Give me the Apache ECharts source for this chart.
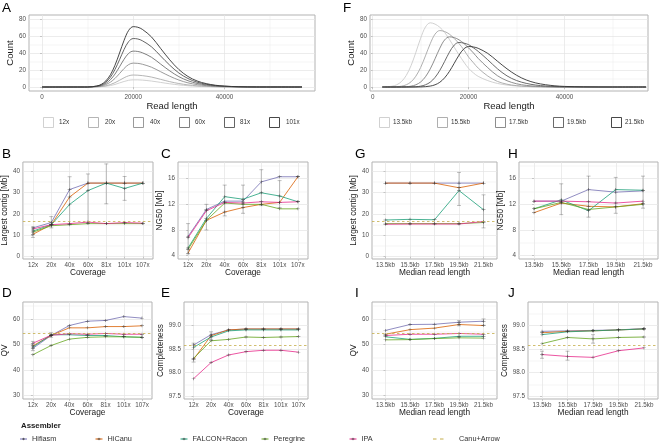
<!DOCTYPE html>
<html><head><meta charset="utf-8">
<script src="https://cdn.jsdelivr.net/npm/echarts@6/dist/echarts.min.js"></script>
<style>html,body{margin:0;padding:0;background:#fff}#c{width:661px;height:445px}</style>
</head><body><div id="c"></div>
<script>
// ================= DATA =================
// Panel A: read-length density by coverage
const readLenA = [0,10000,12000,13000,14000,15000,16000,17000,18000,19000,20000,21000,22000,24000,26000,28000,30000,32000,34000,36000,38000,40000,43000,47000,57000];
const cov12x  = [0,0,0.1,0.4,0.9,1.7,3,4.8,6.5,7.9,8.4,8.4,8.1,7,5.4,3.8,2.5,1.5,0.8,0.5,0.2,0.1,0,0,0];
const cov20x  = [0,0,0.2,0.6,1.4,2.9,5.1,7.9,10.9,13.2,14.1,13.9,13.4,11.7,9,6.3,4.1,2.5,1.4,0.8,0.4,0.2,0.1,0,0];
const cov40x  = [0,0,0.5,1.2,2.9,5.7,10.1,15.8,21.8,26.4,28.1,27.8,26.8,23.3,18,12.7,8.2,4.9,2.8,1.6,0.8,0.4,0.1,0,0];
const cov60x  = [0,0,0.7,1.8,4.3,8.6,15.2,23.8,32.7,39.6,42.2,41.8,40.3,35,27,19,12.2,7.4,4.2,2.4,1.2,0.7,0.2,0,0];
const cov81x  = [0,0,1,2.5,5.8,11.6,20.6,32.1,44.2,53.5,57,56.5,54.4,47.3,36.5,25.7,16.5,10,5.7,3.2,1.7,0.9,0.3,0,0];
const cov101x = [0,0,1.2,3.1,7.2,14.4,25.6,40,55,66.6,71,70.3,67.8,58.9,45.4,32,20.6,12.4,7.1,4,2.1,1.1,0.35,0.05,0];
const covLevels = ['12x','20x','40x','60x','81x','101x'];

// Panel F: read-length density by median read length
const readLenF = [2000,4000,5000,6000,7000,8000,9000,10000,11000,12000,13000,14000,15000,16000,17000,18000,19000,20000,21000,22000,24000,26000,28000,30000,32000,34000,36000,38000,40000,44000,50000,57000];
const med13_5 = [0,0.9,2.6,6.4,13.6,25.2,40.7,57.4,70.5,75.5,74,70.2,64.2,55.9,46.8,37.8,29.4,21.9,16.6,12.5,7.5,4.2,2.3,1.2,0.6,0.3,0.1,0,0,0,0,0];
const med15_5 = [0,0.1,0.3,1,2.6,6.1,12.7,23,36.6,50.9,62.2,66.4,65.2,62.1,57.1,51.1,43.8,35.2,28.6,22.2,12.9,6.6,3.3,1.6,0.7,0.3,0.1,0,0,0,0,0];
const med17_5 = [0,0,0,0.1,0.3,1,2.6,5.9,12,21.3,33.2,45.7,55.4,59,58.1,55.5,51.3,46,40.1,33.6,22.7,13.3,7.4,3.8,1.9,0.9,0.4,0.1,0,0,0,0];
const med19_5 = [0,0,0,0,0,0.1,0.3,1,2.6,5.7,11.3,19.6,30.1,41,49.3,52.4,51.6,49.8,46.1,41.9,32,21.5,13.1,7.6,4.3,2.3,1.2,0.5,0.2,0,0,0];
const med21_5 = [0,0,0,0,0,0,0,0.1,0.4,1.1,2.6,5.6,10.8,18.4,27.9,37.5,44.8,47.6,47.1,45.5,39.5,30.4,21.4,13.8,8.3,4.8,2.7,1.4,0.7,0.2,0,0];
const medLevels = ['13.5kb','15.5kb','17.5kb','19.5kb','21.5kb'];

// Categories for B-E and G-J
const coverageCats = ['12x','20x','40x','60x','81x','101x','107x'];
const readLenCats  = ['13.5kb','15.5kb','17.5kb','19.5kb','21.5kb'];
const assemblers = ['Hifiasm','HiCanu','FALCON+Racon','Peregrine','IPA'];

// B: Largest contig [Mb] vs coverage
const B_hifiasm   = [13.5,16,31.5,34.5,34.5,34.5,34.5];
const B_hicanu    = [10.5,15,28,34.5,34.5,34.5,34.5];
const B_falcon    = [12,15,24.5,31,34.5,32,34.5];
const B_peregrine = [11.5,14.5,15,15.5,15.5,15.5,15.5];
const B_ipa       = [13,15,15.5,16.2,15.5,16,15.7];
const B_err = [[0,9,14],[1,13.5,18.8],[2,15,37.5],[3,15.5,38.8],[4,24.8,43.5],[5,26.4,37.6]];

// C: NG50 [Mb] vs coverage
const C_hifiasm   = [7,11.2,12.5,12.5,15.5,16.3,16.3];
const C_hicanu    = [4.4,9.5,10.8,11.5,12,12.3,16.3];
const C_falcon    = [5.2,9.8,13.2,12.8,13.8,13.3,12.4];
const C_peregrine = [5,9.5,12.2,12,12,11.3,11.3];
const C_ipa       = [6.8,11,12.3,12.2,12.4,12.3,12.4];
const C_err = [[0,4.3,9],[1,8,12],[2,10.2,15],[3,10.6,15],[4,11.8,17.4],[5,11.5,15.7]];

// D: QV vs coverage
const D_hifiasm   = [48.5,53.5,57.4,59.1,59.4,60.9,60.3];
const D_hicanu    = [49.5,53.5,56.5,56.5,57,57,57.3];
const D_falcon    = [49,53.8,53.8,53.5,53.5,53,52.8];
const D_peregrine = [46,49.6,52.1,52.8,53,53,52.8];
const D_ipa       = [50.5,53.6,54.2,54,54.3,54,54];
const D_err = [[0,47.6,51.2],[1,52.8,54.6]];

// E: Completeness vs coverage
const E_hifiasm   = [98.58,98.8,98.9,98.92,98.92,98.92,98.92];
const E_hicanu    = [98.28,98.78,98.9,98.92,98.92,98.92,98.92];
const E_falcon    = [98.53,98.75,98.88,98.9,98.9,98.9,98.9];
const E_peregrine = [98.3,98.67,98.7,98.75,98.74,98.75,98.76];
const E_ipa       = [97.87,98.21,98.37,98.44,98.47,98.47,98.43];
const E_err = [[0,98.22,98.62],[1,98.7,98.86]];

// G: Largest contig [Mb] vs median read length
const G_hifiasm   = [34.5,34.5,34.5,34.5,34.5];
const G_hicanu    = [34.5,34.5,34.5,32.3,34.5];
const G_falcon    = [17.2,17.5,17.3,31,22];
const G_peregrine = [15.5,15.5,15.5,15.5,16];
const G_ipa       = [15.2,15.3,15.3,15.3,16.5];
const G_err = [[3,24,39.5],[4,13.5,29]];

// H: NG50 [Mb] vs median read length
const H_hifiasm   = [12.5,12.5,14.3,13.9,14.1];
const H_hicanu    = [10.7,12.2,11.7,11.6,12.1];
const H_falcon    = [11.3,12.7,11,14.3,14.2];
const H_peregrine = [11.3,12.3,11.2,11.6,12];
const H_ipa       = [12.5,12.5,12.4,12.2,12.5];
const H_err = [[1,10.4,15.2],[2,10,16.4],[3,10.6,16.2],[4,11.4,16.4]];

// I: QV vs median read length
const I_hifiasm   = [55.5,57.8,57.9,58.7,59.1];
const I_hicanu    = [54,55.8,56.4,57.8,57.4];
const I_falcon    = [53,52,52.4,53.2,53.2];
const I_peregrine = [51.8,51.9,52.3,52.6,52.5];
const I_ipa       = [53.5,54,54,54.3,54];
const I_err = [[3,57.3,59.3],[4,57.5,60]];

// J: Completeness vs median read length
const J_hifiasm   = [98.87,98.88,98.89,98.9,98.93];
const J_hicanu    = [98.84,98.87,98.88,98.9,98.92];
const J_falcon    = [98.8,98.86,98.88,98.9,98.92];
const J_peregrine = [98.61,98.74,98.71,98.74,98.75];
const J_ipa       = [98.38,98.34,98.32,98.46,98.52];
const J_err = [[0,98.3,98.45],[1,98.26,98.45],[2,98.62,98.8]];

// Canu+Arrow reference values
const canuLargestContig = 16.5;
const canuQV = 54.2;
const canuCompleteness = 98.57;

// ================= STYLE / LAYOUT =================
const FONT = '"Liberation Sans", Arial, Helvetica, sans-serif';
const BORDER = '#b3b3b3', GRIDC = '#e4e4e4', LABELC = '#4d4d4d', TITLEC = '#1a1a1a';
const asmColors = {'Hifiasm':'#7570B3','HiCanu':'#D95F02','FALCON+Racon':'#1B9E77','Peregrine':'#66A61E','IPA':'#E7298A'};
const canuColor = '#C4AD4A';
const greys6 = ['#CCCCCC','#ADADAD','#8F8F8F','#707070','#525252','#333333'];
const greys5 = ['#CCCCCC','#A6A6A6','#808080','#595959','#333333'];

const grid = [], xAxis = [], yAxis = [], series = [], graphic = [];

function addPanel(c) {
  const gi = grid.length;
  grid.push({left:c.left, top:c.top, width:c.width, height:c.height, show:true, borderColor:BORDER, borderWidth:1, backgroundColor:'transparent', containLabel:false});
  const xi = xAxis.length;
  xAxis.push({
    type:'value', gridIndex:gi, min:c.xmin, max:c.xmax,
    axisLine:{show:false},
    axisTick:{show:true, length:2, lineStyle:{color:BORDER, width:0.7}, customValues:c.xticks},
    axisLabel:{show:true, customValues:c.xticks, formatter:c.xfmt, fontSize:6.3, color:LABELC, margin:3, fontFamily:FONT},
    splitLine:{show:true, lineStyle:{color:GRIDC, width:0.7}},
    name:c.xtitle, nameLocation:'middle', nameGap:c.xGap, nameTextStyle:{fontSize:c.titleSize, color:TITLEC, fontFamily:FONT}
  });
  if (c.xminor) xAxis.push({type:'value', gridIndex:gi, min:c.xmin, max:c.xmax, axisLine:{show:false}, axisLabel:{show:false}, axisTick:{show:false, customValues:c.xminor}, splitLine:{show:true, lineStyle:{color:GRIDC, width:0.35}}});
  const yi = yAxis.length;
  yAxis.push({
    type:'value', gridIndex:gi, min:c.ymin, max:c.ymax,
    axisLine:{show:false},
    axisTick:{show:true, length:2, lineStyle:{color:BORDER, width:0.7}, customValues:c.yticks},
    axisLabel:{show:true, customValues:c.yticks, formatter:c.yfmt, fontSize:6.3, color:LABELC, margin:3, fontFamily:FONT},
    splitLine:{show:true, lineStyle:{color:GRIDC, width:0.7}},
    name:c.ytitle, nameLocation:'middle', nameGap:c.yGap, nameTextStyle:{fontSize:c.titleSize, color:TITLEC, fontFamily:FONT}
  });
  if (c.yminor) yAxis.push({type:'value', gridIndex:gi, min:c.ymin, max:c.ymax, position:'left', axisLine:{show:false}, axisLabel:{show:false}, axisTick:{show:false, customValues:c.yminor}, splitLine:{show:true, lineStyle:{color:GRIDC, width:0.35}}});
  return {xi, yi};
}

function errRender(params, api) {
  const x = api.value(0), lo = api.value(1), hi = api.value(2);
  const a = api.coord([x, lo]), b = api.coord([x, hi]);
  const hw = 2;
  const st = {stroke:'rgba(60,60,60,0.45)', lineWidth:0.7};
  return {type:'group', children:[
    {type:'line', shape:{x1:a[0], y1:a[1], x2:b[0], y2:b[1]}, style:st},
    {type:'line', shape:{x1:a[0]-hw, y1:a[1], x2:a[0]+hw, y2:a[1]}, style:st},
    {type:'line', shape:{x1:b[0]-hw, y1:b[1], x2:b[0]+hw, y2:b[1]}, style:st}
  ]};
}

const CROSS = 'path://M0,2.6H6V3.4H0Z M2.6,0H3.4V6H2.6Z';

function metricPanel(c) {
  const cats = c.cats;
  const idx = cats.map((_, i) => i);
  const ax = addPanel({
    left:c.left, top:c.top, width:c.width, height:c.height,
    xmin:-0.55, xmax:cats.length - 0.45, xticks:idx, xfmt:(v) => cats[Math.round(v)],
    ymin:c.ymin, ymax:c.ymax, yticks:c.yticks, yminor:c.yminor, yfmt:c.yfmt,
    xtitle:c.xtitle, ytitle:c.ytitle, xGap:8.5, yGap:c.yGap, titleSize:8.3
  });
  assemblers.forEach((name, k) => {
    const vals = c.vals[k];
    series.push({
      type:'line', name, xAxisIndex:ax.xi, yAxisIndex:ax.yi,
      data: vals.map((v, i) => [i, v]),
      lineStyle:{color:asmColors[name], width:0.8},
      itemStyle:{color:'rgba(40,40,40,0.75)'},
      symbol:CROSS, symbolSize:[4,3], showSymbol:true, silent:true, z:3
    });
  });
  if (c.hline !== undefined) {
    series.push({
      type:'line', name:'Canu+Arrow', xAxisIndex:ax.xi, yAxisIndex:ax.yi, data:[], silent:true,
      markLine:{silent:true, symbol:'none', label:{show:false},
        lineStyle:{color:canuColor, width:0.8, type:[2.5,2.5]}, data:[{yAxis:c.hline}]}, z:2
    });
  }
  series.push({type:'custom', xAxisIndex:ax.xi, yAxisIndex:ax.yi, data:c.err, renderItem:errRender, clip:true, silent:true, z:4});
}

// ---- Panel A ----
{
  const ax = addPanel({left:29, top:15, width:286, height:76,
    xmin:-2850, xmax:59850, xticks:[0,20000,40000], xminor:[10000,30000,50000], xfmt:(v)=>String(v),
    ymin:-4.7, ymax:84.7, yticks:[0,20,40,60,80], yminor:[10,30,50,70], yfmt:(v)=>String(v),
    xtitle:'Read length', ytitle:'Count', xGap:9, yGap:11, titleSize:9.5});
  const arrs = [cov12x, cov20x, cov40x, cov60x, cov81x, cov101x];
  arrs.forEach((arr, k) => {
    series.push({type:'line', name:covLevels[k], xAxisIndex:ax.xi, yAxisIndex:ax.yi,
      data:readLenA.map((x, i) => [x, arr[i]]), smooth:0.35, showSymbol:false, silent:true,
      lineStyle:{color:greys6[k], width:0.9}});
  });
}
// ---- Panel F ----
{
  const ax = addPanel({left:370, top:15, width:278, height:76,
    xmin:-560, xmax:57400, xticks:[0,20000,40000], xminor:[10000,30000,50000], xfmt:(v)=>String(v),
    ymin:-4.7, ymax:84.7, yticks:[0,20,40,60,80], yminor:[10,30,50,70], yfmt:(v)=>String(v),
    xtitle:'Read length', ytitle:'Count', xGap:9, yGap:9, titleSize:9.5});
  const arrs = [med13_5, med15_5, med17_5, med19_5, med21_5];
  arrs.forEach((arr, k) => {
    series.push({type:'line', name:medLevels[k], xAxisIndex:ax.xi, yAxisIndex:ax.yi,
      data:readLenF.map((x, i) => [x, arr[i]]), smooth:0.35, showSymbol:false, silent:true,
      lineStyle:{color:greys5[k], width:0.9}});
  });
}

const fmt1 = (v) => v.toFixed(1);
const fmt0 = (v) => String(v);
const ROW2 = 162, ROW3 = 302, H2 = 97, H3 = 97;

metricPanel({left:21, top:ROW2, width:132, height:H2, cats:coverageCats, ymin:-1.1, ymax:44.4, yticks:[0,10,20,30,40], yminor:[5,15,25,35], yfmt:fmt0,
  xtitle:'Coverage', ytitle:'Largest contig [Mb]', yGap:7.5, vals:[B_hifiasm,B_hicanu,B_falcon,B_peregrine,B_ipa], err:B_err, hline:canuLargestContig});
metricPanel({left:178, top:ROW2, width:130, height:H2, cats:coverageCats, ymin:3.48, ymax:18.6, yticks:[4,8,12,16], yminor:[6,10,14,18], yfmt:fmt0,
  xtitle:'Coverage', ytitle:'NG50 [Mb]', yGap:7.5, vals:[C_hifiasm,C_hicanu,C_falcon,C_peregrine,C_ipa], err:C_err});
metricPanel({left:21, top:ROW3, width:131, height:H3, cats:coverageCats, ymin:28.7, ymax:66.6, yticks:[30,40,50,60], yminor:[35,45,55,65], yfmt:fmt0,
  xtitle:'Coverage', ytitle:'QV', yGap:7.5, vals:[D_hifiasm,D_hicanu,D_falcon,D_peregrine,D_ipa], err:D_err, hline:canuQV});
metricPanel({left:184, top:ROW3, width:124, height:H3, cats:coverageCats, ymin:97.44, ymax:99.49, yticks:[97.5,98,98.5,99], yminor:[97.75,98.25,98.75,99.25], yfmt:fmt1,
  xtitle:'Coverage', ytitle:'Completeness', yGap:11.5, vals:[E_hifiasm,E_hicanu,E_falcon,E_peregrine,E_ipa], err:E_err, hline:canuCompleteness});
metricPanel({left:372, top:ROW2, width:125, height:H2, cats:readLenCats, ymin:-1.1, ymax:44.4, yticks:[0,10,20,30,40], yminor:[5,15,25,35], yfmt:fmt0,
  xtitle:'Median read length', ytitle:'Largest contig [Mb]', yGap:7.5, vals:[G_hifiasm,G_hicanu,G_falcon,G_peregrine,G_ipa], err:G_err, hline:canuLargestContig});
metricPanel({left:519, top:ROW2, width:139, height:H2, cats:readLenCats, ymin:3.48, ymax:18.6, yticks:[4,8,12,16], yminor:[6,10,14,18], yfmt:fmt0,
  xtitle:'Median read length', ytitle:'NG50 [Mb]', yGap:7.5, vals:[H_hifiasm,H_hicanu,H_falcon,H_peregrine,H_ipa], err:H_err});
metricPanel({left:372, top:ROW3, width:125, height:H3, cats:readLenCats, ymin:28.7, ymax:66.6, yticks:[30,40,50,60], yminor:[35,45,55,65], yfmt:fmt0,
  xtitle:'Median read length', ytitle:'QV', yGap:7.5, vals:[I_hifiasm,I_hicanu,I_falcon,I_peregrine,I_ipa], err:I_err, hline:canuQV});
metricPanel({left:528, top:ROW3, width:130, height:H3, cats:readLenCats, ymin:97.44, ymax:99.49, yticks:[97.5,98,98.5,99], yminor:[97.75,98.25,98.75,99.25], yfmt:fmt1,
  xtitle:'Median read length', ytitle:'Completeness', yGap:11.5, vals:[J_hifiasm,J_hicanu,J_falcon,J_peregrine,J_ipa], err:J_err, hline:canuCompleteness});

// ---- panel letters ----
const letters = [['A',2,13.5],['F',343,13.5],['B',2,159.5],['C',161,159.5],['G',355,159.5],['H',508,159.5],['D',2,298.5],['E',161,298.5],['I',355,298.5],['J',508,298.5]];
letters.forEach(([t,x,y]) => graphic.push({type:'text', left:x, top:y-12, style:{text:t, fontSize:13.5, fontFamily:FONT, fill:'#000'}}));

// ---- density legends (A, F) ----
const legA = [[43,59],[88,105],[133,150],[179,195],[224,240],[269,286]];
covLevels.forEach((lab, k) => {
  graphic.push({type:'rect', shape:{x:legA[k][0]+0.5, y:117.5, width:10, height:10}, style:{fill:'#fff', stroke:greys6[k], lineWidth:0.9}});
  graphic.push({type:'text', x:legA[k][1], y:122.5, style:{text:lab, fontSize:6.3, fontFamily:FONT, fill:'#333', textVerticalAlign:'middle', verticalAlign:'middle'}});
});
const legF = [[379,393],[437,451],[495,509],[553,567],[611,625]];
medLevels.forEach((lab, k) => {
  graphic.push({type:'rect', shape:{x:legF[k][0]+0.5, y:117.5, width:10, height:10}, style:{fill:'#fff', stroke:greys5[k], lineWidth:0.9}});
  graphic.push({type:'text', x:legF[k][1], y:122.5, style:{text:lab, fontSize:6.3, fontFamily:FONT, fill:'#333', textVerticalAlign:'middle', verticalAlign:'middle'}});
});

// ---- assembler legend ----
graphic.push({type:'text', x:21, y:426, style:{text:'Assembler', fontSize:7.8, fontWeight:'bold', fontFamily:FONT, fill:'#1a1a1a', verticalAlign:'middle', textVerticalAlign:'middle'}});
const legItems = [['Hifiasm',20,32],['HiCanu',95.5,107.5],['FALCON+Racon',180.5,192.5],['Peregrine',261.5,273.5],['IPA',349.5,361.5]];
legItems.forEach(([name, kx, tx]) => {
  graphic.push({type:'line', shape:{x1:kx, y1:439, x2:kx+7, y2:439}, style:{stroke:asmColors[name], lineWidth:1}});
  graphic.push({type:'line', shape:{x1:kx+3.5, y1:437.8, x2:kx+3.5, y2:440.2}, style:{stroke:'rgba(40,40,40,0.7)', lineWidth:0.8}});
  graphic.push({type:'line', shape:{x1:kx+2, y1:439, x2:kx+5, y2:439}, style:{stroke:'rgba(40,40,40,0.7)', lineWidth:0.8}});
  graphic.push({type:'text', x:tx, y:439, style:{text:name, fontSize:7.3, fontFamily:FONT, fill:'#333', verticalAlign:'middle', textVerticalAlign:'middle'}});
});
graphic.push({type:'line', shape:{x1:433, y1:439, x2:447, y2:439}, style:{stroke:canuColor, lineWidth:1, lineDash:[3.5,3.5]}});
graphic.push({type:'text', x:459, y:439, style:{text:'Canu+Arrow', fontSize:7.3, fontFamily:FONT, fill:'#333', verticalAlign:'middle', textVerticalAlign:'middle'}});

const chart = echarts.init(document.getElementById('c'), null, {renderer:'canvas'});
chart.setOption({
  animation:false, backgroundColor:'#fff',
  textStyle:{fontFamily:FONT},
  grid, xAxis, yAxis, series, graphic
});
</script></body></html>
